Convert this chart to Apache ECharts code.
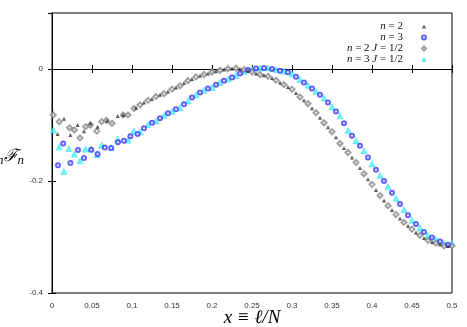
<!DOCTYPE html>
<html>
<head>
<meta charset="utf-8">
<script src="https://cdn.jsdelivr.net/npm/echarts@6/dist/echarts.min.js"></script>
<style>
  html, body { margin: 0; padding: 0; background: #fff; }
  #main { width: 467px; height: 327px; }
</style>
</head>
<body>
<div id="main"></div>
<script>
// n = 2 (black triangles)
var n2X = [0.007, 0.015, 0.023, 0.032, 0.040, 0.048, 0.057, 0.069, 0.082, 0.089,
  0.105, 0.115, 0.125, 0.135, 0.145, 0.155, 0.165, 0.175, 0.185, 0.195,
  0.205, 0.215, 0.225, 0.235, 0.245, 0.255, 0.265, 0.275, 0.285, 0.295,
  0.305, 0.315, 0.325, 0.335, 0.345, 0.355, 0.365, 0.375, 0.385, 0.395,
  0.405, 0.415, 0.425, 0.435, 0.445, 0.455, 0.465, 0.475, 0.485, 0.495]
var n2Y = [-0.116, -0.089, -0.118, -0.100, -0.111, -0.097, -0.103, -0.092, -0.084, -0.082,
  -0.069, -0.060, -0.053, -0.046, -0.040, -0.033, -0.025, -0.018, -0.012, -0.008,
  -0.004, -0.001, 0.001, 0.000, -0.003, -0.008, -0.011, -0.016, -0.024, -0.032,
  -0.043, -0.056, -0.070, -0.087, -0.104, -0.122, -0.141, -0.158, -0.177, -0.197,
  -0.216, -0.235, -0.252, -0.267, -0.280, -0.292, -0.302, -0.309, -0.313, -0.316]

// n = 3 (blue circles)
var n3X = [0.0075, 0.014, 0.023, 0.0325, 0.040, 0.049, 0.057, 0.066, 0.074, 0.0825,
  0.090, 0.098, 0.107, 0.115, 0.125, 0.135, 0.145, 0.155, 0.165, 0.175,
  0.185, 0.195, 0.205, 0.215, 0.225, 0.235, 0.245, 0.255, 0.265, 0.275,
  0.285, 0.295, 0.305, 0.315, 0.325, 0.335, 0.345, 0.355, 0.365, 0.375,
  0.385, 0.395, 0.405, 0.415, 0.425, 0.435, 0.445, 0.455, 0.465, 0.475,
  0.485, 0.495]
var n3Y = [-0.172, -0.133, -0.168, -0.1445, -0.159, -0.144, -0.152, -0.140, -0.141, -0.131,
  -0.128, -0.120, -0.116, -0.106, -0.096, -0.088, -0.079, -0.072, -0.063, -0.051,
  -0.042, -0.035, -0.028, -0.021, -0.015, -0.008, -0.002, 0.001, 0.002, 0.000,
  -0.003, -0.006, -0.014, -0.024, -0.035, -0.046, -0.060, -0.076, -0.097, -0.119,
  -0.137, -0.158, -0.180, -0.200, -0.221, -0.241, -0.261, -0.277, -0.291, -0.301,
  -0.308, -0.314]

// n = 2, J = 1/2 (grey diamonds)
var n2jX = [0.0016, 0.009, 0.022, 0.028, 0.035, 0.042, 0.048, 0.056, 0.062, 0.068,
  0.075, 0.089, 0.095, 0.1025, 0.110, 0.120, 0.130, 0.140, 0.150, 0.160,
  0.170, 0.180, 0.190, 0.200, 0.210, 0.220, 0.230, 0.240, 0.250, 0.260,
  0.270, 0.280, 0.290, 0.300, 0.310, 0.320, 0.330, 0.340, 0.350, 0.360,
  0.370, 0.380, 0.390, 0.400, 0.410, 0.420, 0.430, 0.440, 0.450, 0.460,
  0.470, 0.480, 0.490, 0.500]
var n2jY = [-0.082, -0.094, -0.105, -0.109, -0.123, -0.103, -0.100, -0.111, -0.094, -0.092,
  -0.097, -0.082, -0.082, -0.0706, -0.064, -0.056, -0.049, -0.044, -0.036, -0.030,
  -0.021, -0.014, -0.0098, -0.0053, -0.0023, 0.0005, 0.0012, -0.001, -0.0053, -0.0098,
  -0.013, -0.020, -0.028, -0.036, -0.050, -0.062, -0.078, -0.096, -0.112, -0.133,
  -0.149, -0.167, -0.187, -0.206, -0.226, -0.244, -0.260, -0.274, -0.286, -0.297,
  -0.306, -0.311, -0.316, -0.316]

// n = 3, J = 1/2 (cyan triangles)
var n3jX = [0.0016, 0.009, 0.015, 0.021, 0.028, 0.035, 0.042, 0.049, 0.056, 0.062,
  0.074, 0.082, 0.095, 0.102, 0.110, 0.120, 0.130, 0.140, 0.150, 0.160,
  0.170, 0.180, 0.190, 0.200, 0.210, 0.220, 0.230, 0.240, 0.250, 0.260,
  0.270, 0.280, 0.290, 0.300, 0.310, 0.320, 0.330, 0.340, 0.350, 0.360,
  0.370, 0.380, 0.390, 0.400, 0.410, 0.420, 0.430, 0.440, 0.450, 0.460,
  0.470, 0.480, 0.490, 0.500]
var n3jY = [-0.109, -0.139, -0.183, -0.142, -0.152, -0.164, -0.143, -0.143, -0.153, -0.136,
  -0.140, -0.125, -0.127, -0.111, -0.112, -0.0996, -0.093, -0.083, -0.0756, -0.069,
  -0.057, -0.046, -0.038, -0.033, -0.024, -0.0178, -0.0116, -0.0044, 0.000, 0.0018,
  0.002, -0.001, -0.004, -0.0089, -0.0187, -0.029, -0.040, -0.0516, -0.0676, -0.0836,
  -0.110, -0.128, -0.146, -0.169, -0.190, -0.210, -0.231, -0.251, -0.270, -0.284,
  -0.297, -0.304, -0.311, -0.311]

var legendNames = ['n2', 'n3', 'n2J', 'n3J']
var legendLabels = {
  n2: '{i|n} = 2',
  n3: '{i|n} = 3',
  n2J: '{i|n} = 2 {i|J} = 1/2',
  n3J: '{i|n} = 3 {i|J} = 1/2'
}

function pairs (xs, ys) {
  var out = []
  for (var i = 0; i < xs.length; i++) out.push([xs[i], ys[i]])
  return out
}

var chart = echarts.init(document.getElementById('main'))
var tickFont = { fontFamily: 'Liberation Sans', fontSize: 8, color: '#333' }
var serif = 'Liberation Serif'

var option = {
  animation: false,
  grid: {
    left: 52, right: 15, top: 13, bottom: 34,
    outerBoundsMode: 'none', containLabel: false,
    show: true, borderColor: '#000', borderWidth: 1
  },
  legend: {
    data: legendNames,
    orient: 'vertical',
    align: 'right',
    right: 35,
    top: 16,
    itemGap: 0,
    itemWidth: 4,
    itemHeight: 4,
    itemStyle: { borderWidth: 0.8 },
    formatter: function (name) { return legendLabels[name] },
    textStyle: {
      fontFamily: serif, fontSize: 11, color: '#111', lineHeight: 10.5, padding: [0, 14, 0, 0],
      rich: { i: { fontFamily: serif, fontStyle: 'italic', fontSize: 11, lineHeight: 10.5 } }
    }
  },
  xAxis: [{
    type: 'value', min: 0, max: 0.5, interval: 0.05,
    name: 'x ≡ ℓ/N', nameLocation: 'middle', nameGap: 25, nameMoveOverlap: false,
    nameTextStyle: { fontFamily: serif, fontStyle: 'italic', fontSize: 19, color: '#000', verticalAlign: 'middle' },
    axisLine: { show: true, lineStyle: { color: '#000', width: 1 } },
    axisTick: { inside: true, length: 4, lineStyle: { color: '#000' } },
    axisLabel: Object.assign({ margin: 9 }, tickFont),
    splitLine: { show: false }
  }, {
    type: 'value', min: 0, max: 0.5, interval: 0.05, position: 'top',
    axisLine: { show: true, lineStyle: { color: '#000' } },
    axisTick: { inside: true, length: 4, lineStyle: { color: '#000' } },
    axisLabel: { show: false }, splitLine: { show: false }
  }],
  yAxis: [{
    type: 'value', min: -0.4, max: 0.1, interval: 0.2,
    axisLine: { show: true, lineStyle: { color: '#888', width: 2 } },
    axisTick: { inside: true, length: 4, lineStyle: { color: '#000' } },
    axisLabel: Object.assign({ margin: 9, showMaxLabel: false }, tickFont),
    splitLine: { show: false }
  }, {
    type: 'value', min: -0.4, max: 0.1, interval: 0.2, position: 'right',
    axisLine: { show: true, lineStyle: { color: '#000' } },
    axisTick: { inside: true, length: 4, lineStyle: { color: '#000' } },
    axisLabel: { show: false }, splitLine: { show: false }
  }],
  graphic: [{
    type: 'text', left: -3, top: 148,
    style: {
      text: '{s|n}{f|ℱ}{s|n}',
      rich: {
        s: { fontFamily: serif, fontStyle: 'italic', fontSize: 13, padding: [8, 0, 0, 0] },
        f: { fontFamily: 'DejaVu Serif', fontStyle: 'italic', fontSize: 17 }
      }
    }
  }],
  series: [{
    name: 'n2', type: 'scatter', data: pairs(n2X, n2Y),
    symbol: 'triangle', symbolSize: 4,
    itemStyle: { color: '#333' }, z: 4
  }, {
    name: 'n3', type: 'scatter', data: pairs(n3X, n3Y),
    symbol: 'emptyCircle', symbolSize: 4,
    itemStyle: { color: '#3a3aff', borderWidth: 1 }, z: 3
  }, {
    name: 'n2J', type: 'scatter', data: pairs(n2jX, n2jY),
    symbol: 'emptyDiamond', symbolSize: 5,
    itemStyle: { color: '#888', borderWidth: 1 }, z: 2
  }, {
    name: 'n3J', type: 'scatter', data: pairs(n3jX, n3jY),
    symbol: 'triangle', symbolSize: 6,
    itemStyle: { color: '#4ef2ff', borderColor: '#22d8ee', borderWidth: 0.6 }, z: 1
  }]
}
chart.setOption(option)
</script>
</body>
</html>
